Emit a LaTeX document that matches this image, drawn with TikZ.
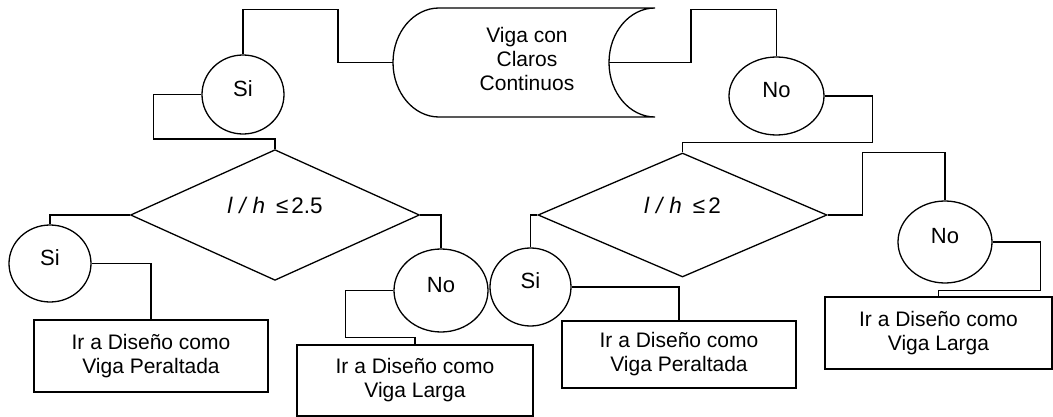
\documentclass[tikz,border=0pt]{standalone}
\usepackage{fontspec}
\setmainfont{Liberation Sans}
\usetikzlibrary{shapes.geometric}
\begin{document}
\begin{tikzpicture}[x=1pt,y=-1pt,line width=1.3pt,
  font=\fontsize{21}{24}\selectfont,
  oval/.style={draw,ellipse,inner sep=0pt,text depth=12pt,font=\fontsize{22}{24}\selectfont},
  decision/.style={draw,diamond,inner sep=0pt,minimum width=289pt,minimum height=124pt,text depth=19pt,font=\fontsize{22.5}{24}\selectfont},
  outbox/.style={draw,rectangle,inner sep=0pt,align=center},
  link/.style={draw}]
\useasboundingbox (0,0) rectangle (1053,417);
% start shape (stored data)
\draw (655,8) -- (439,8) arc[start angle=270,end angle=90,x radius=46,y radius=54.5]
  -- (655,117) arc[start angle=90,end angle=270,x radius=46,y radius=54.5] -- cycle;
\coordinate (vL) at (393,62.5);
\coordinate (vR) at (609,62.5);
\node[align=center] (viga) at (527,59) {Viga con\\Claros\\Continuos};
% circles
\node[oval,minimum width=82pt,minimum height=79pt] (si1) at (243,94.5) {Si};
\node[oval,minimum width=95pt,minimum height=78pt] (no1) at (776.5,96) {No};
\node[oval,minimum width=82pt,minimum height=77pt] (si2) at (50,263.5) {Si};
\node[oval,minimum width=94pt,minimum height=83pt] (no2) at (441,290.5) {No};
\node[oval,minimum width=81pt,minimum height=78pt] (si3) at (530.5,287) {Si};
\node[oval,minimum width=94pt,minimum height=82pt] (no3) at (945,242) {No};
% decisions
\node[decision] (d1) at (275,215) {\textit{l\hspace{7pt}/\hspace{7pt}h}\hspace{11pt}≤\hspace{3pt}2.5};
\node[decision] (d2) at (682.5,215) {\textit{l\hspace{7pt}/\hspace{7pt}h}\hspace{11pt}≤\hspace{3pt}2};
% boxes
\node[outbox,minimum width=234pt,minimum height=72pt] (b1) at (151,356) {Ir a Diseño como\\Viga Peraltada};
\node[outbox,minimum width=236pt,minimum height=71pt] (b2) at (415,380.5) {Ir a Diseño como\\Viga Larga};
\node[outbox,minimum width=234pt,minimum height=67pt] (b3) at (679,354.5) {Ir a Diseño como\\Viga Peraltada};
\node[outbox,minimum width=227pt,minimum height=72pt] (b4) at (938.5,333) {Ir a Diseño como\\Viga Larga};
% connectors
\draw[link] (vL) -- ++(-55,0) |- ([yshift=45pt]si1.north) -- (si1.north);
\draw[link] (vR) -- ++(82,0) |- ([yshift=47pt]no1.north) -- (no1.north);
\draw[link] (si1.west) -- ++(-48,0) |- ([yshift=10pt]d1.north) -- (d1.north);
\draw[link] (no1.east) -- ++(48,0) |- ([yshift=10pt]d2.north) -- (d2.north);
\draw[link] (d1.west) -| (si2.north);
\draw[link] (si2.east) -| (b1.north);
\draw[link] (d1.east) -| (no2.north);
\draw[link] (no2.west) -- ++(-48,0) |- ([yshift=7pt]b2.north) -- (b2.north);
\draw[link] (d2.west) -| (si3.north);
\draw[link] (si3.east) -| (b3.north);
\draw[link] (d2.east) -- ++(35,0) |- ([yshift=48pt]no3.north) -- (no3.north);
\draw[link] (no3.east) -- ++(48,0) |- ([yshift=6pt]b4.north) -- (b4.north);
\end{tikzpicture}
\end{document}
